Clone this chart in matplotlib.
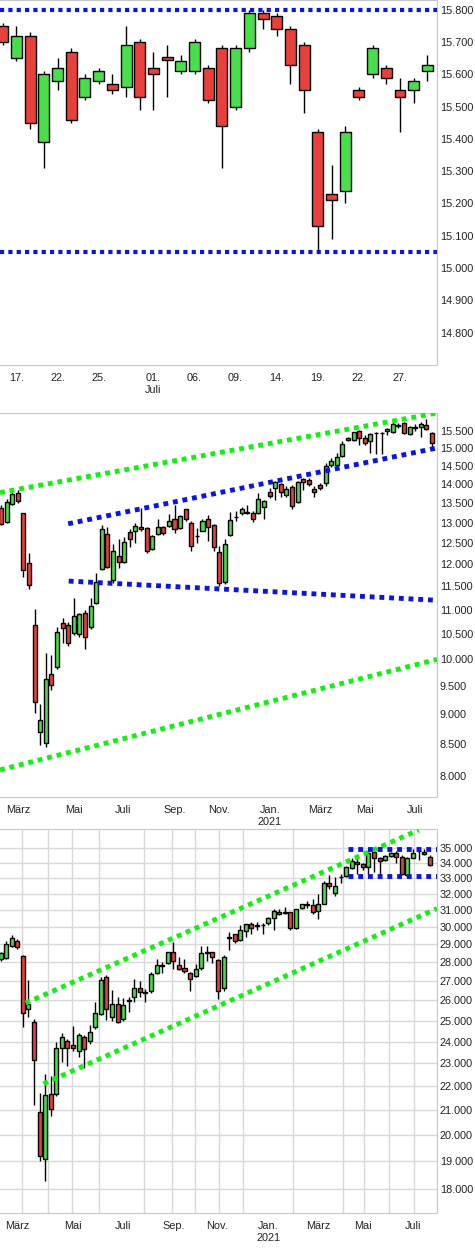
import numpy as np
import matplotlib
matplotlib.use("Agg")
import matplotlib.pyplot as plt
from matplotlib.ticker import FixedLocator, NullFormatter, NullLocator

plt.rcParams['font.family'] = ['Liberation Sans', 'DejaVu Sans']

GREEN = "#4ade4a"
RED = "#e8413c"
LBLUE = "#0a14e6"
LGREEN = "#12f012"

# ---- Panel 1: daily, 16. Juni - 29. Juli 2021
d_open = [15.75, 15.65, 15.72, 15.39, 15.58, 15.67, 15.53, 15.58, 15.57, 15.56, 15.70, 15.62, 15.655, 15.61, 15.61, 15.62,
          15.68, 15.50, 15.68, 15.79, 15.78, 15.74, 15.69, 15.42, 15.23, 15.24, 15.55, 15.60, 15.62, 15.55, 15.55, 15.61]
d_close = [15.70, 15.72, 15.45, 15.60, 15.62, 15.46, 15.59, 15.61, 15.55, 15.69, 15.53, 15.60, 15.645, 15.64, 15.70, 15.52,
           15.44, 15.68, 15.79, 15.77, 15.74, 15.63, 15.55, 15.13, 15.21, 15.42, 15.53, 15.68, 15.59, 15.53, 15.58, 15.63]
d_high = [15.76, 15.75, 15.73, 15.61, 15.65, 15.68, 15.60, 15.62, 15.60, 15.75, 15.71, 15.67, 15.69, 15.66, 15.71, 15.63,
          15.69, 15.69, 15.80, 15.80, 15.79, 15.75, 15.70, 15.43, 15.32, 15.44, 15.56, 15.69, 15.63, 15.59, 15.59, 15.66]
d_low = [15.69, 15.64, 15.43, 15.31, 15.55, 15.45, 15.52, 15.57, 15.54, 15.53, 15.49, 15.49, 15.53, 15.60, 15.60, 15.51,
         15.31, 15.49, 15.67, 15.74, 15.72, 15.57, 15.48, 15.05, 15.09, 15.20, 15.52, 15.59, 15.57, 15.42, 15.51, 15.58]
d_tick_idx = [1, 4, 7, 11, 14, 17, 20, 23, 26, 29]
d_tick_lab = ["17.", "22.", "25.", "01.\nJuli", "06.", "09.", "14.", "19.", "22.", "27."]
d_levels = [15.80, 15.05]

# ---- Panel 2: weekly, Feb 2020 - Jul 2021
w_open = [13.38, 13.02, 13.48, 13.77, 13.23, 12.03, 10.69, 8.70, 8.52, 9.72, 9.86, 10.73, 10.69, 10.52, 10.50, 10.94,
          10.65, 11.15, 11.89, 12.72, 11.65, 12.20, 12.06, 12.77, 12.80, 12.90, 12.87, 12.36, 12.72, 12.90, 12.92, 13.09,
          12.87, 13.33, 13.00, 12.68, 12.80, 13.09, 12.94, 12.29, 11.59, 12.70, 13.13, 13.23, 13.25, 13.24, 13.23, 13.40,
          13.79, 13.89, 14.00, 13.71, 13.92, 13.53, 14.13, 14.10, 13.87, 13.97, 14.02, 14.52, 14.52, 14.77, 15.29, 15.24,
          15.50, 15.29, 15.21, 15.43, 15.43, 15.50, 15.47, 15.68, 15.74, 15.41, 15.59, 15.63, 15.68, 15.44]
w_close = [12.97, 13.53, 13.74, 13.56, 11.87, 11.54, 9.22, 8.90, 9.63, 9.52, 10.54, 10.63, 10.32, 10.86, 10.90, 10.44,
           11.07, 11.59, 12.85, 11.94, 12.32, 12.06, 12.53, 12.60, 12.92, 12.85, 12.32, 12.67, 12.90, 12.75, 13.04, 12.85,
           13.16, 13.09, 12.44, 12.66, 13.04, 12.90, 12.41, 11.57, 12.48, 13.06, 13.15, 13.35, 13.27, 13.09, 13.61, 13.55,
           13.69, 14.05, 13.79, 13.87, 13.43, 14.05, 14.05, 14.00, 13.79, 13.89, 14.50, 14.63, 14.74, 15.12, 15.24, 15.47,
           15.29, 15.15, 15.41, 15.45, 15.45, 15.56, 15.71, 15.65, 15.44, 15.62, 15.62, 15.71, 15.56, 15.15]
w_high = [13.45, 13.60, 13.79, 13.84, 13.25, 12.27, 11.02, 9.18, 10.13, 10.09, 10.64, 10.82, 10.75, 11.24, 10.94, 11.00,
          11.24, 11.80, 12.93, 12.90, 12.48, 12.60, 12.65, 12.85, 13.00, 13.38, 12.90, 12.70, 13.10, 12.92, 13.21, 13.45,
          13.20, 13.35, 13.03, 12.87, 13.09, 13.18, 12.96, 12.44, 12.60, 13.26, 13.28, 13.40, 13.45, 13.28, 13.76, 13.58,
          13.89, 14.08, 14.02, 13.94, 13.96, 14.08, 14.15, 14.15, 13.94, 14.02, 14.57, 14.72, 14.86, 15.21, 15.32, 15.47,
          15.53, 15.38, 15.44, 15.47, 15.47, 15.59, 15.77, 15.74, 15.77, 15.64, 15.71, 15.77, 15.85, 15.47]
w_low = [12.95, 12.99, 13.45, 13.50, 11.72, 11.45, 9.03, 8.49, 8.46, 9.43, 9.82, 10.31, 10.25, 10.48, 10.43, 10.21,
         10.60, 11.12, 11.88, 11.92, 11.58, 11.92, 12.04, 12.41, 12.51, 12.80, 12.27, 12.34, 12.70, 12.70, 12.88, 12.75,
         12.85, 13.04, 12.32, 12.51, 12.78, 12.55, 12.32, 11.50, 11.56, 12.68, 13.04, 13.18, 13.21, 13.02, 13.21, 13.09,
         13.63, 13.58, 13.66, 13.66, 13.33, 13.50, 13.84, 13.94, 13.66, 13.84, 13.94, 14.46, 14.43, 14.74, 15.21, 15.21,
         15.09, 15.09, 14.86, 14.83, 14.83, 15.38, 15.44, 15.59, 15.41, 15.38, 15.50, 15.32, 15.53, 15.03]
w2_lines = [  # (x0, y0, x1, y1, colour)
    (-0.18, 13.77, 77.9, 16.04, LGREEN),
    (12.0, 12.97, 77.9, 15.00, LBLUE),
    (12.1, 11.62, 77.9, 11.20, LBLUE),
    (-0.18, 8.09, 77.9, 10.00, LGREEN),
]
w2_ticks = [8.0, 8.5, 9.0, 9.5, 10.0, 10.5, 11.0, 11.5, 12.0, 12.5, 13.0, 13.5, 14.0, 14.5, 15.0, 15.5]

# ---- Panel 3: weekly, in Tausend Punkten
i_open = [28.18, 28.23, 28.90, 29.18, 28.34, 25.57, 24.93, 20.90, 19.10, 21.68, 21.68, 23.70, 24.03, 23.84, 23.57, 24.21,
          24.03, 24.69, 25.32, 27.21, 25.17, 25.82, 25.07, 25.95, 26.17, 26.63, 26.40, 26.48, 27.42, 27.82, 27.96, 28.56,
          27.85, 27.69, 27.42, 27.26, 27.69, 28.54, 28.56, 28.12, 26.63, 29.38, 29.58, 29.24, 29.75, 30.16, 30.08, 30.10,
          30.22, 30.51, 30.87, 30.81, 30.87, 29.93, 31.11, 31.33, 31.29, 30.93, 31.41, 32.67, 32.03, 33.05, 33.14, 33.66,
          34.06, 33.92, 33.73, 34.73, 34.33, 34.19, 34.46, 34.66, 34.39, 33.20, 34.33, 34.78, 34.73, 34.39]
i_close = [28.51, 29.01, 29.35, 28.84, 25.37, 25.82, 23.16, 19.21, 21.64, 21.06, 23.70, 24.21, 23.70, 23.70, 24.31, 23.66,
           24.45, 25.37, 27.05, 25.57, 25.82, 24.93, 25.77, 26.00, 26.63, 26.43, 26.45, 27.37, 27.85, 27.88, 28.56, 28.07,
           27.63, 27.53, 27.10, 27.63, 28.51, 28.58, 28.29, 26.48, 28.29, 29.44, 29.18, 29.81, 30.16, 29.93, 30.12, 30.14,
           30.51, 30.93, 30.75, 30.87, 29.93, 31.05, 31.35, 31.37, 30.87, 31.41, 32.67, 32.47, 32.47, 33.10, 33.73, 34.12,
           33.92, 33.73, 34.66, 34.33, 34.12, 34.46, 34.66, 34.39, 33.27, 34.33, 34.66, 34.82, 34.59, 33.86]
i_high = [28.60, 29.20, 29.55, 29.30, 28.40, 27.05, 25.10, 21.72, 22.54, 22.46, 23.97, 24.40, 24.10, 24.74, 24.40, 24.30,
          24.80, 25.90, 27.20, 27.30, 26.53, 26.20, 26.10, 26.20, 27.10, 27.00, 26.60, 27.50, 28.20, 28.00, 28.60, 29.12,
          28.30, 28.20, 27.50, 27.90, 28.90, 28.90, 28.60, 28.20, 28.40, 29.70, 29.60, 30.10, 30.20, 30.30, 30.30, 30.25,
          30.60, 31.10, 31.10, 31.20, 30.90, 31.10, 31.40, 31.55, 31.70, 31.97, 32.80, 33.20, 33.10, 33.30, 33.80, 34.30,
          34.40, 34.00, 34.70, 34.80, 34.40, 34.50, 34.70, 34.80, 34.50, 34.40, 34.90, 35.10, 34.90, 34.50]
i_low = [28.10, 28.20, 28.85, 28.75, 24.69, 25.17, 21.22, 19.00, 18.30, 20.74, 21.60, 23.07, 22.89, 23.55, 23.30, 22.80,
         23.90, 24.60, 25.25, 25.02, 25.00, 24.90, 25.00, 25.40, 25.90, 26.20, 25.90, 26.40, 27.40, 27.42, 27.90, 27.63,
         27.60, 27.42, 26.48, 27.20, 27.60, 28.10, 27.95, 26.07, 26.50, 28.70, 29.10, 29.20, 29.40, 29.60, 29.80, 29.60,
         30.10, 29.81, 30.70, 30.75, 29.80, 29.90, 31.05, 31.11, 30.80, 30.45, 31.35, 32.30, 31.90, 32.70, 33.10, 33.60,
         33.30, 33.50, 33.20, 33.40, 33.30, 34.10, 34.40, 34.00, 33.20, 33.10, 34.30, 34.20, 34.50, 33.80]
w3_lines = [
    (4.5, 25.87, 75.0, 36.25, LGREEN),
    (7.7, 22.10, 78.3, 31.10, LGREEN),
    (62.4, 34.93, 78.3, 34.93, LBLUE),
    (62.4, 33.14, 78.3, 33.14, LBLUE),
]
w3_ticks = list(range(18, 36))

month_pos = [3.0, 13.0, 21.9, 31.1, 38.9, 48.0, 57.0, 65.1, 74.0]
month_lab = ["März", "Mai", "Juli", "Sep.", "Nov.", "Jan.\n2021", "März", "Mai", "Juli"]
grid_months = [3.8, 8.6, 12.9, 17.7, 21.9, 25.8, 30.8, 34.9, 39.1, 43.5, 48.0, 52.5, 57.0, 61.5, 65.2, 69.7, 74.2]


def candles(ax, o, c, h, l, width):
    x = np.arange(len(o))
    o, c, h, l = map(np.asarray, (o, c, h, l))
    up = c >= o
    ax.vlines(x, l, h, color="black", lw=1, zorder=2)
    body = np.abs(c - o)
    ax.bar(x, body, width, bottom=np.minimum(o, c),
           color=np.where(up, GREEN, RED), edgecolor="black", lw=1, zorder=3)


def style(ax):
    for s in ax.spines.values():
        s.set_color("#c8c8c8")
    ax.spines["left"].set_visible(False)
    ax.yaxis.tick_right()
    ax.tick_params(length=0, labelsize=7.8, colors="#222222", pad=2)
    ax.tick_params(axis="x", pad=6)


fig = plt.figure(figsize=(4.75, 12.5), dpi=100)

# panel 1
ax1 = fig.add_axes([0, 0.708, 0.92, 0.292])
candles(ax1, d_open, d_close, d_high, d_low, 0.8)
for lv in d_levels:
    ax1.axhline(lv, color=LBLUE, lw=3, ls=(0, (1, 1)), zorder=4)
ax1.set_xlim(-0.2, 31.7)
ax1.set_ylim(14.70, 15.83)
ax1.set_yticks(np.arange(14.8, 15.81, 0.1))
ax1.set_yticklabels([f"{v:.3f}" for v in np.arange(14.8, 15.81, 0.1)])
ax1.set_xticks(d_tick_idx)
ax1.set_xticklabels(d_tick_lab)
style(ax1)

# panel 2
ax2 = fig.add_axes([0, 0.3624, 0.92, 0.3072])
candles(ax2, w_open, w_close, w_high, w_low, 0.72)
for x0, y0, x1, y1, col in w2_lines:
    ax2.plot([x0, x1], [y0, y1], color=col, lw=3.5, ls=(0, (1, 1)), zorder=4, solid_capstyle="butt")
ax2.set_yscale("log")
ax2.set_xlim(-0.18, 77.9)
ax2.set_ylim(7.68, 16.04)
ax2.yaxis.set_major_locator(FixedLocator(w2_ticks))
ax2.yaxis.set_minor_locator(NullLocator())
ax2.yaxis.set_minor_formatter(NullFormatter())
ax2.set_yticklabels([f"{v:.3f}" for v in w2_ticks])
ax2.set_xticks(month_pos)
ax2.set_xticklabels(month_lab)
style(ax2)

# panel 3
ax3 = fig.add_axes([0, 0.0296, 0.92, 0.3072])
ax3.set_axisbelow(True)
candles(ax3, i_open, i_close, i_high, i_low, 0.72)
for x0, y0, x1, y1, col in w3_lines:
    ax3.plot([x0, x1], [y0, y1], color=col, lw=3.5, ls=(0, (1, 1)), zorder=4)
ax3.set_yscale("log")
ax3.set_xlim(-0.1, 78.3)
ax3.set_ylim(17.18, 36.32)
ax3.yaxis.set_major_locator(FixedLocator(w3_ticks))
ax3.yaxis.set_minor_locator(NullLocator())
ax3.yaxis.set_minor_formatter(NullFormatter())
ax3.set_yticklabels([f"{v:.3f}" for v in w3_ticks])
ax3.set_xticks(month_pos)
ax3.set_xticklabels(month_lab)
ax3.set_xticks(grid_months, minor=True)
ax3.grid(True, which="major", axis="y", color="#d8d8d8", lw=1)
ax3.grid(True, which="minor", axis="x", color="#d8d8d8", lw=1)
ax3.tick_params(which="minor", length=0)
style(ax3)

fig.savefig("out.png", dpi=100)
